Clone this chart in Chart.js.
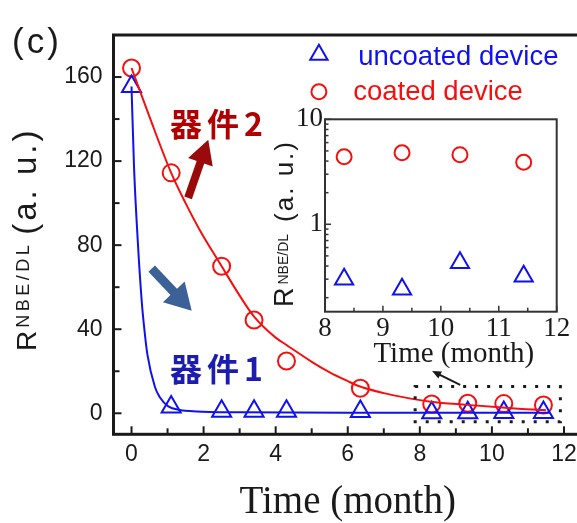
<!DOCTYPE html>
<html>
<head>
<meta charset="utf-8">
<script src="https://cdn.jsdelivr.net/npm/chart.js@4.4.1/dist/chart.umd.min.js"></script>
<style>
  html, body { margin: 0; padding: 0; background: #fff; overflow: hidden; width: 577px; height: 523px; }
  #wrap { position: relative; width: 600px; height: 523px; }
  #main { position: absolute; left: 0; top: 0; }
  #inset { position: absolute; left: 255px; top: 85px; }
</style>
</head>
<body>
<div id="wrap">
  <canvas id="main" width="600" height="523"></canvas>
  <canvas id="inset" width="322" height="300"></canvas>
</div>
<script>
// Storage time of each measurement (months)
const months = [0, 1.1, 2.5, 3.4, 4.3, 6.35, 8.33, 9.33, 10.33, 11.43];
// R(NBE/DL) of the device without coating
const uncoated = [155.5, 3, 1, 1, 1, 0.8, 0.30, 0.24, 0.43, 0.32];
// R(NBE/DL) of the coated device
const coated = [164.3, 114.4, 70, 44.4, 24.9, 11.9, 4.4, 4.8, 4.6, 3.9];
// the inset repeats the samples from month 8 on
const insetStart = 6;

// decay fit curves
const fitMonthsUncoated = [0, 0.07, 0.17, 0.28, 0.35, 0.44, 0.65, 0.79, 1.02, 1.34, 1.8, 3, 6, 9, 11.6];
const fitUncoated = [155.5, 117, 83, 54, 41, 28, 12.5, 7.5, 3.3, 1.6, 0.9, 0.5, 0.3, 0.3, 0.3];
const fitMonthsCoated = [0, 0.5, 1.1, 1.5, 1.9, 2.5, 3, 3.4, 4, 4.3, 5, 5.5, 6, 6.3, 7, 7.5, 8.3, 9.3, 10.3, 11.3, 11.5];
const fitCoated = [164.3, 141, 114.4, 100, 87, 70, 56, 46, 36, 32.5, 24.5, 19.5, 15.3, 13, 9.6, 7.8, 5.5, 4, 2.7, 1.6, 1.5];

// tick values
const mainXTicks = [0, 1, 2, 3, 4, 5, 6, 7, 8, 9, 10, 11, 12];
const mainYTicks = [0, 20, 40, 60, 80, 100, 120, 140, 160];
const insetXTicks = [8, 8.5, 9, 9.5, 10, 10.5, 11, 11.5, 12];
const insetYTicks = [0.2, 0.3, 0.4, 0.5, 0.6, 0.7, 0.8, 0.9, 1, 2, 3, 4, 5, 6, 7, 8, 9, 10];

const seriesNames = ['uncoated device', 'coated device'];
const deviceLabels = ['器件1', '器件2'];

const BLUE = '#1010f5';
const RED = '#f51010';
const INK = '#1a1a1a';

const pts = (xs, ys) => xs.map((x, i) => ({ x, y: ys[i] }));

function drawRotatedTitle(ctx, x, y, parts) {
  ctx.save();
  ctx.translate(x, y);
  ctx.rotate(-Math.PI / 2);
  ctx.fillStyle = INK;
  ctx.textBaseline = 'alphabetic';
  ctx.textAlign = 'left';
  let cx = 0;
  for (const p of parts) {
    ctx.font = p.font;
    ctx.letterSpacing = p.spacing || '0px';
    cx += p.gap || 0;
    ctx.fillText(p.text, cx, -(p.rise || 0));
    cx += ctx.measureText(p.text).width;
  }
  ctx.restore();
}

function drawArrow(ctx, x0, y0, x1, y1, shaft, headLen, headW, color) {
  const ang = Math.atan2(y1 - y0, x1 - x0);
  const bx = x1 - Math.cos(ang) * headLen, by = y1 - Math.sin(ang) * headLen;
  ctx.save();
  ctx.strokeStyle = color; ctx.fillStyle = color;
  ctx.lineWidth = shaft; ctx.lineCap = 'butt';
  ctx.beginPath(); ctx.moveTo(x0, y0); ctx.lineTo(bx + Math.cos(ang) * 2, by + Math.sin(ang) * 2); ctx.stroke();
  const nx = -Math.sin(ang) * headW / 2, ny = Math.cos(ang) * headW / 2;
  ctx.beginPath();
  ctx.moveTo(x1, y1); ctx.lineTo(bx + nx, by + ny); ctx.lineTo(bx - nx, by - ny);
  ctx.closePath(); ctx.fill();
  ctx.restore();
}

function tickMarks(ctx, scale, area, side, majorTest, major, minor) {
  for (const t of scale.ticks) {
    const p = scale.getPixelForValue(t.value);
    const len = majorTest(t.value) ? major : minor;
    ctx.beginPath();
    if (side === 'bottom') { ctx.moveTo(p, area.bottom); ctx.lineTo(p, area.bottom - len); }
    else { ctx.moveTo(area.left, p); ctx.lineTo(area.left + len, p); }
    ctx.stroke();
  }
}

// ---------- main panel ----------
const mainDecor = {
  id: 'mainDecor',
  afterDraw(chart) {
    const { ctx, chartArea: a, scales: { x, y } } = chart;
    const X = v => x.getPixelForValue(v), Y = v => y.getPixelForValue(v);
    ctx.save();
    // inward ticks
    ctx.strokeStyle = INK; ctx.lineWidth = 2;
    tickMarks(ctx, x, a, 'bottom', v => v % 2 === 0, 8, 6);
    tickMarks(ctx, y, a, 'left', v => v % 40 === 0, 8, 6);
    // frame
    ctx.lineWidth = 3;
    ctx.strokeRect(a.left, a.top, a.width, a.height);

    // panel tag
    ctx.fillStyle = INK;
    ctx.font = '35px "Liberation Sans", Arial, sans-serif';
    ctx.letterSpacing = '3px';
    ctx.textBaseline = 'alphabetic'; ctx.textAlign = 'left';
    ctx.fillText('(c)', 12, 53);
    ctx.letterSpacing = '0px';

    // y-axis title with subscript
    drawRotatedTitle(ctx, 36, 351, [
      { text: 'R', font: '28px "Liberation Sans", Arial, sans-serif' },
      { text: 'NBE/DL', font: '18px "Liberation Sans", Arial, sans-serif', spacing: '3.5px', gap: 3, rise: 7 },
      { text: '(a. u.)', font: '33px "Liberation Sans", Arial, sans-serif', spacing: '3px', gap: 7 }
    ]);

    // legend
    ctx.lineWidth = 2;
    ctx.strokeStyle = BLUE;
    const tx = X(5.2), ty = Y(170.6), r = 10;
    ctx.beginPath();
    ctx.moveTo(tx, ty - r);
    ctx.lineTo(tx + r * Math.sin(2 * Math.PI / 3), ty - r * Math.cos(2 * Math.PI / 3));
    ctx.lineTo(tx + r * Math.sin(4 * Math.PI / 3), ty - r * Math.cos(4 * Math.PI / 3));
    ctx.closePath(); ctx.stroke();
    ctx.strokeStyle = RED;
    ctx.beginPath(); ctx.arc(X(5.2), Y(153), 7.5, 0, Math.PI * 2); ctx.stroke();
    ctx.font = '27.5px "Liberation Sans", Arial, sans-serif';
    ctx.fillStyle = BLUE; ctx.fillText(seriesNames[0], X(6.29), Y(165.9));
    ctx.fillStyle = RED; ctx.fillText(seriesNames[1], X(6.15), Y(149.2));

    // device labels and arrows
    ctx.font = 'bold 32px "Noto Sans CJK SC", sans-serif';
    ctx.letterSpacing = '5px';
    ctx.fillStyle = '#b00000';
    ctx.fillText(deviceLabels[1], X(1.07), Y(132));
    ctx.fillStyle = '#1c1cb0';
    ctx.fillText(deviceLabels[0], X(1.07), Y(15.4));
    ctx.letterSpacing = '0px';
    drawArrow(ctx, X(1.57), Y(102.5), X(2.13), Y(130.2), 8, 24, 26, '#9a0a0a');
    drawArrow(ctx, X(0.56), Y(68.8), X(1.67), Y(48.8), 9, 26, 30, '#3b6197');

    // region repeated in the inset
    ctx.strokeStyle = INK; ctx.lineWidth = 3; ctx.setLineDash([3, 9]);
    ctx.strokeRect(X(7.87), Y(12.7), X(11.9) - X(7.87), Y(-4) - Y(12.7));
    ctx.setLineDash([]);
    drawArrow(ctx, X(9.12), Y(13.5), X(8.34), Y(20.1), 2, 9, 8, INK);
    ctx.restore();
  }
};

new Chart(document.getElementById('main'), {
  type: 'scatter',
  data: {
    datasets: [
      { data: pts(fitMonthsUncoated, fitUncoated), showLine: true, borderColor: BLUE, borderWidth: 2,
        pointRadius: 0, cubicInterpolationMode: 'monotone' },
      { data: pts(fitMonthsCoated, fitCoated), showLine: true, borderColor: RED, borderWidth: 2,
        pointRadius: 0, cubicInterpolationMode: 'monotone' },
      { label: seriesNames[0], data: pts(months, uncoated), pointStyle: 'triangle', pointRadius: 11,
        borderColor: BLUE, backgroundColor: 'rgba(0,0,0,0)', borderWidth: 2 },
      { label: seriesNames[1], data: pts(months, coated), pointStyle: 'circle', pointRadius: 8.5,
        borderColor: RED, backgroundColor: 'rgba(0,0,0,0)', borderWidth: 2 }
    ]
  },
  options: {
    responsive: false, animation: false, devicePixelRatio: 1, events: [],
    layout: { padding: { left: 0, top: 35, right: 18, bottom: 0 } },
    plugins: { legend: { display: false }, tooltip: { enabled: false } },
    scales: {
      x: {
        type: 'linear', min: -0.5, max: 12.5,
        afterBuildTicks: s => { s.ticks = mainXTicks.map(v => ({ value: v })); },
        afterFit: s => { s.height = 88.7; },
        grid: { display: false, drawTicks: false }, border: { display: false },
        ticks: { autoSkip: false, maxRotation: 0, padding: 7, color: INK,
          font: { family: '"Liberation Sans", Arial, sans-serif', size: 23 },
          callback: v => (v % 2 === 0 ? String(v) : '') },
        title: { display: true, text: 'Time (month)', color: INK,
          font: { family: '"Liberation Serif", "Times New Roman", serif', size: 39 },
          padding: { top: 0, bottom: -3 } }
      },
      y: {
        type: 'linear', min: -10, max: 180,
        afterBuildTicks: s => { s.ticks = mainYTicks.map(v => ({ value: v })); },
        afterFit: s => { s.width = 113.5; },
        grid: { display: false, drawTicks: false }, border: { display: false },
        ticks: { autoSkip: false, padding: 11, color: INK,
          font: { family: '"Liberation Sans", Arial, sans-serif', size: 23 },
          callback: v => (v % 40 === 0 ? String(v) : '') }
      }
    }
  },
  plugins: [mainDecor]
});

// ---------- inset panel ----------
const insetDecor = {
  id: 'insetDecor',
  afterDraw(chart) {
    const { ctx, chartArea: a, scales: { x, y } } = chart;
    ctx.save();
    ctx.strokeStyle = '#333'; ctx.lineWidth = 1.5;
    tickMarks(ctx, x, a, 'bottom', v => Number.isInteger(v), 6, 4);
    tickMarks(ctx, y, a, 'left', v => v === 1 || v === 10, 6, 3.5);
    ctx.lineWidth = 2;
    ctx.strokeRect(a.left, a.top, a.width, a.height);
    // axis titles
    ctx.fillStyle = INK;
    ctx.font = '29px "Liberation Serif", "Times New Roman", serif';
    ctx.textAlign = 'center'; ctx.textBaseline = 'alphabetic';
    ctx.fillText('Time (month)', (a.left + a.right) / 2 + 13, a.bottom + 50);
    drawRotatedTitle(ctx, 38, 222, [
      { text: 'R', font: '27px "Liberation Sans", Arial, sans-serif' },
      { text: 'NBE/DL', font: '14px "Liberation Sans", Arial, sans-serif', gap: 3, rise: 5 },
      { text: '(a. u.)', font: '26px "Liberation Sans", Arial, sans-serif', spacing: '2px', gap: 12 }
    ]);
    ctx.restore();
  }
};

new Chart(document.getElementById('inset'), {
  type: 'scatter',
  data: {
    datasets: [
      { label: seriesNames[0], data: pts(months.slice(insetStart), uncoated.slice(insetStart)),
        pointStyle: 'triangle', pointRadius: 10.5, borderColor: BLUE, backgroundColor: 'rgba(0,0,0,0)', borderWidth: 2 },
      { label: seriesNames[1], data: pts(months.slice(insetStart), coated.slice(insetStart)),
        pointStyle: 'circle', pointRadius: 7.5, borderColor: RED, backgroundColor: 'rgba(0,0,0,0)', borderWidth: 2 }
    ]
  },
  options: {
    responsive: false, animation: false, devicePixelRatio: 1, events: [],
    layout: { padding: { left: 0, top: 34.3, right: 20.3, bottom: 0 } },
    plugins: { legend: { display: false }, tooltip: { enabled: false } },
    scales: {
      x: {
        type: 'linear', min: 8, max: 12,
        afterBuildTicks: s => { s.ticks = insetXTicks.map(v => ({ value: v })); },
        afterFit: s => { s.height = 73.3; },
        grid: { display: false, drawTicks: false }, border: { display: false },
        ticks: { autoSkip: false, maxRotation: 0, padding: 1, color: INK,
          font: { family: '"Liberation Serif", "Times New Roman", serif', size: 27 },
          callback: v => (Number.isInteger(v) ? String(v) : '') }
      },
      y: {
        type: 'logarithmic', min: 0.147, max: 10,
        afterBuildTicks: s => { s.ticks = insetYTicks.map(v => ({ value: v })); },
        afterFit: s => { s.width = 70; },
        grid: { display: false, drawTicks: false }, border: { display: false },
        ticks: { autoSkip: false, padding: 2, color: INK,
          font: { family: '"Liberation Serif", "Times New Roman", serif', size: 27 },
          callback: v => (v === 1 || v === 10 ? String(v) : '') }
      }
    }
  },
  plugins: [insetDecor]
});
</script>
</body>
</html>
